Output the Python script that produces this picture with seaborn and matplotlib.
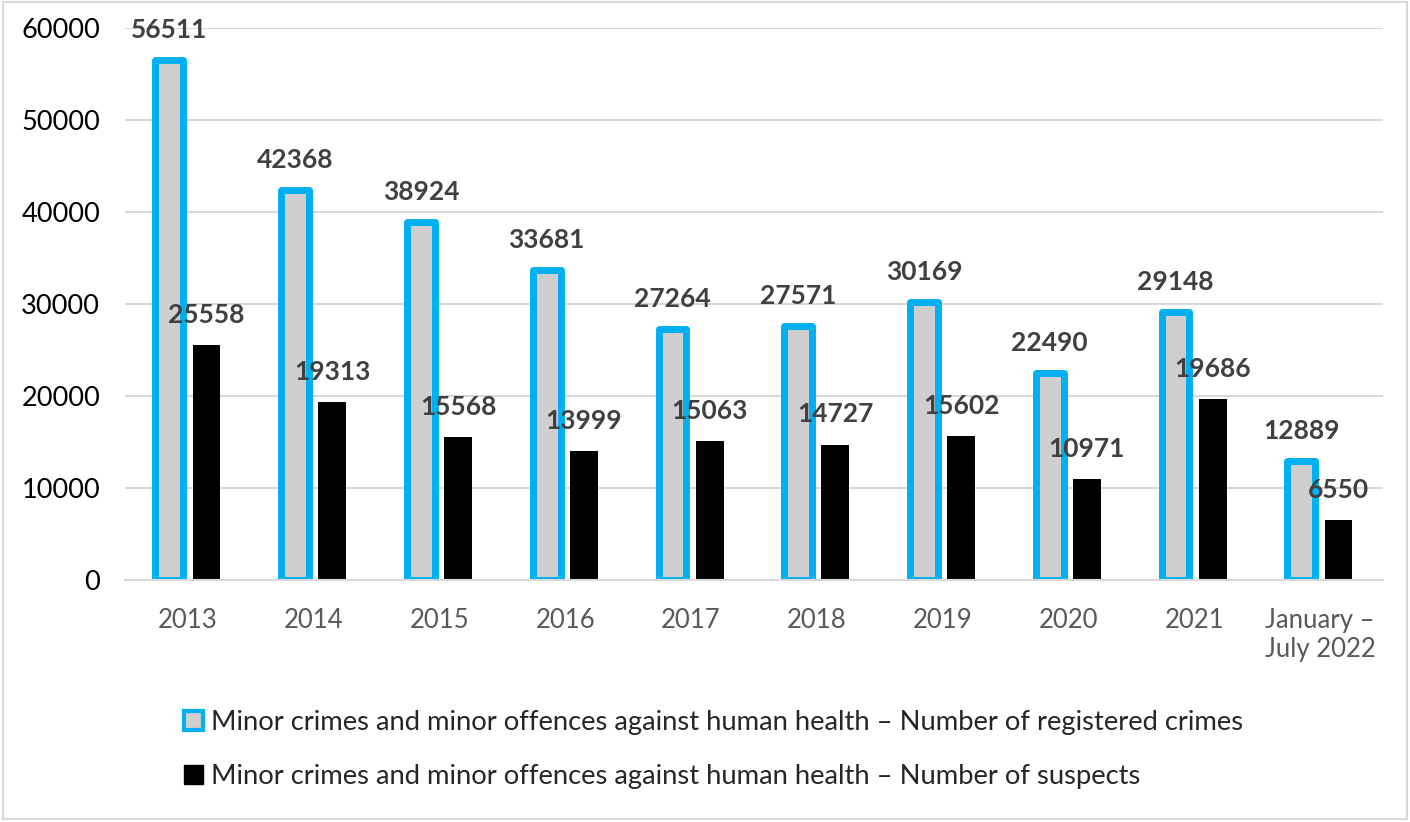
import matplotlib
matplotlib.use("Agg")
import matplotlib.pyplot as plt
import matplotlib.patches as mpatches
import seaborn as sns
import pandas as pd

# data
periods = ["2013", "2014", "2015", "2016", "2017", "2018", "2019", "2020", "2021",
           "January –\nJuly 2022"]
registered = [56511, 42368, 38924, 33681, 27264, 27571, 30169, 22490, 29148, 12889]
suspects = [25558, 19313, 15568, 13999, 15063, 14727, 15602, 10971, 19686, 6550]

label_reg = "Minor crimes and minor offences against human health – Number of registered crimes"
label_sus = "Minor crimes and minor offences against human health – Number of suspects"

df = pd.DataFrame({
    "period": periods * 2,
    "value": registered + suspects,
    "series": [label_reg] * len(periods) + [label_sus] * len(periods),
})

sns.set_theme(style="white")
plt.rcParams["font.family"] = ["Lato", "DejaVu Sans"]

fig = plt.figure(figsize=(14.1, 8.22), dpi=100)
ax = fig.add_axes([0.0887, 0.2944, 0.892, 0.6716])

sns.barplot(data=df, x="period", y="value", hue="series", order=periods,
            palette=["#d0cece", "#000000"], width=0.59, gap=0.25,
            legend=False, ax=ax)

blue = "#00b0f0"
for p in ax.containers[0]:
    p.set_edgecolor(blue)
    p.set_linewidth(5)
    p.set_joinstyle("round")
for p in ax.containers[1]:
    p.set_edgecolor("none")

# value labels
for cont, offs in zip(ax.containers, [13, 13]):
    for p in cont:
        h = p.get_height()
        ax.annotate(f"{int(h)}", (p.get_x() + p.get_width() / 2, h),
                    xytext=(0, offs), textcoords="offset points",
                    ha="center", va="bottom", fontsize=19, fontweight="bold",
                    color="#404040")

ax.set_ylim(0, 60000)
ax.set_xlim(-0.5, len(periods) - 0.5)
ax.set_yticks(range(0, 60001, 10000))
ax.yaxis.grid(True, color="#d9d9d9", linewidth=1.5)
ax.set_axisbelow(True)
for s in ["top", "right", "left"]:
    ax.spines[s].set_visible(False)
ax.spines["bottom"].set_color("#d9d9d9")
ax.spines["bottom"].set_linewidth(1.5)
ax.tick_params(axis="y", labelsize=19.5, labelcolor="black", length=0, pad=18)
ax.tick_params(axis="x", labelsize=18.5, labelcolor="#595959", length=0, pad=20)
ax.set_xlabel("")
ax.set_ylabel("")

handles = [
    mpatches.Patch(facecolor="#d0cece", edgecolor=blue, linewidth=3, label=label_reg),
    mpatches.Patch(facecolor="black", edgecolor="black", label=label_sus),
]
fig.legend(handles=handles, loc="upper left", bbox_to_anchor=(0.113, 0.166),
           frameon=False, fontsize=19.7, handlelength=0.7, handleheight=0.7,
           handletextpad=0.3, labelspacing=1.05)

# thin border round the whole figure
fig.patches.append(mpatches.Rectangle((0.002, 0.004), 0.996, 0.993, transform=fig.transFigure,
                                      fill=False, edgecolor="#d9d9d9", linewidth=1.5))

fig.savefig("out.png", dpi=100)
